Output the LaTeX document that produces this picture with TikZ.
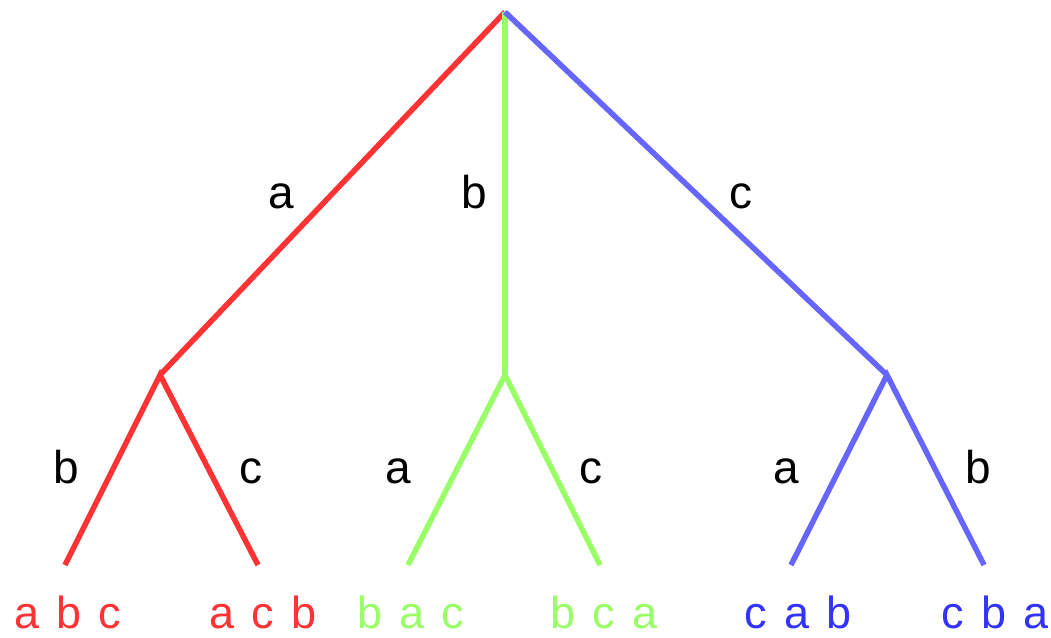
\documentclass[tikz,border=0pt]{standalone}
\usepackage{fontspec}
\setmainfont{Liberation Sans}
\definecolor{tred}{HTML}{FF3333}
\definecolor{tgreen}{HTML}{99FF66}
\definecolor{tblue}{HTML}{6666FF}
\definecolor{tbluetext}{HTML}{3333FF}
\newcommand\myleaffont{\fontsize{45}{50}\selectfont\spaceskip=17pt\relax}
\begin{document}
\begin{tikzpicture}[x=1pt,y=-1pt,
  edge/.style={line width=5.5pt},
  lbl/.style={anchor=base,inner sep=0pt,font=\fontsize{46}{50}\selectfont},
  leaf/.style={anchor=base,inner sep=0pt,font=\myleaffont}]
\useasboundingbox (0,0) rectangle (1051,637);
\coordinate (r) at (505,12);
\coordinate (A) at (160,375);
\coordinate (B) at (505,375);
\coordinate (C) at (887,375);
\coordinate (abc) at (65,565);
\coordinate (acb) at (258,565);
\coordinate (bac) at (408,565);
\coordinate (bca) at (600,565);
\coordinate (cab) at (791,565);
\coordinate (cba) at (984,565);
\draw[edge,tred] (abc) -- (A) -- (acb);
\draw[edge,tred] (A) -- (r);
\draw[edge,tgreen] (bac) -- (B) -- (bca);
\draw[edge,tgreen] (B) -- (r);
\draw[edge,tblue] (cab) -- (C) -- (cba);
\draw[edge,tblue] (C) -- (r);
\node[lbl] (la) at (281,208) {a};
\node[lbl] (lb) at (474,208) {b};
\node[lbl] (lc) at (741,208) {c};
\node[lbl] (lab) at (66,483) {b};
\node[lbl] (lac) at (251,483) {c};
\node[lbl] (lba) at (398,483) {a};
\node[lbl] (lbc) at (591,483) {c};
\node[lbl] (lca) at (786,483) {a};
\node[lbl] (lcb) at (978,483) {b};
\node[leaf,text=tred] (tabc) at (68,628) {a b c};
\node[leaf,text=tred] (tacb) at (263,628) {a c b};
\node[leaf,text=tgreen] (tbac) at (411,628) {b a c};
\node[leaf,text=tgreen] (tbca) at (604,628) {b c a};
\node[leaf,text=tbluetext] (tcab) at (798,628) {c a b};
\node[leaf,text=tbluetext] (tcba) at (995,628) {c b a};
\end{tikzpicture}
\end{document}
